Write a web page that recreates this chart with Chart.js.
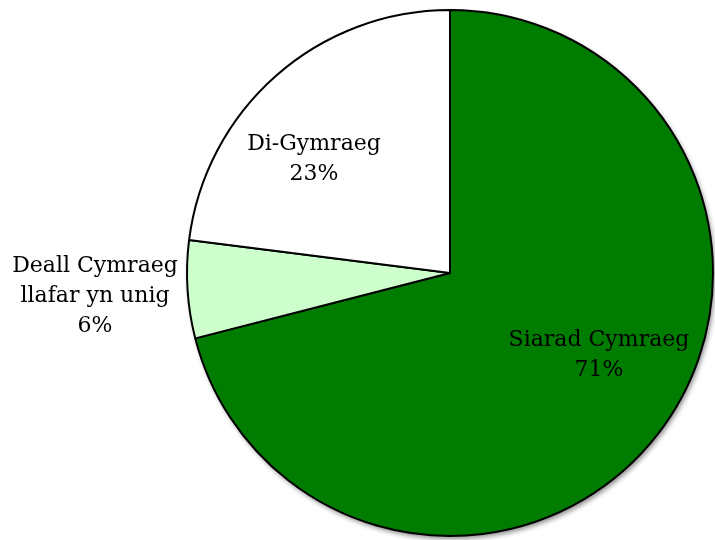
<!DOCTYPE html>
<html>
<head>
<meta charset="utf-8">
<script src="https://cdn.jsdelivr.net/npm/chart.js@4"></script>
<style>
  html, body { margin: 0; padding: 0; background: #fff; }
  #wrap { width: 715px; height: 540px; position: relative; }
</style>
</head>
<body>
<div id="wrap"><canvas id="pieChart"></canvas></div>
<script>
// data
const categories = ['Siarad Cymraeg', 'Deall Cymraeg llafar yn unig', 'Di-Gymraeg'];
const labelLines = [['Siarad Cymraeg'], ['Deall Cymraeg', 'llafar yn unig'], ['Di-Gymraeg']];
const percentages = [71, 6, 23];
const sliceColors = ['#007d00', '#ccffcc', '#ffffff'];

// label placement relative to pie centre (px), first baseline
const labelOffsets = [
    { dx: 149, dy: 73 },
    { dx: -355, dy: -1 },
    { dx: -136, dy: -123 }
];

const FONT = '22px "DejaVu Serif", serif';
const LINE_H = 30;

// soft shadow under the whole pie
const pieShadow = {
    id: 'pieShadow',
    beforeDatasetsDraw(chart) {
        const arc = chart.getDatasetMeta(0).data[0];
        if (!arc) return;
        const ctx = chart.ctx;
        ctx.save();
        ctx.shadowColor = 'rgba(0,0,0,0.45)';
        ctx.shadowBlur = 5;
        ctx.shadowOffsetX = 2;
        ctx.shadowOffsetY = 3;
        ctx.beginPath();
        ctx.arc(arc.x, arc.y, arc.outerRadius, 0, Math.PI * 2);
        ctx.fillStyle = '#fff';
        ctx.fill();
        ctx.restore();
    }
};

// text labels: name + percentage
const sliceLabels = {
    id: 'sliceLabels',
    afterDatasetsDraw(chart) {
        const meta = chart.getDatasetMeta(0);
        const ctx = chart.ctx;
        ctx.save();
        ctx.font = FONT;
        ctx.fillStyle = '#000';
        ctx.textAlign = 'center';
        ctx.textBaseline = 'alphabetic';
        meta.data.forEach((arc, i) => {
            const lines = labelLines[i].concat([percentages[i] + '%']);
            const off = labelOffsets[i];
            lines.forEach((t, j) => {
                ctx.fillText(t, arc.x + off.dx, arc.y + off.dy + j * LINE_H);
            });
        });
        ctx.restore();
    }
};

new Chart(document.getElementById('pieChart'), {
    type: 'pie',
    data: {
        labels: categories,
        datasets: [{
            data: percentages,
            backgroundColor: sliceColors,
            borderColor: '#000',
            borderWidth: 2
        }]
    },
    options: {
        responsive: true,
        maintainAspectRatio: false,
        animation: false,
        events: [],
        layout: { padding: { left: 186, right: 1, top: 9, bottom: 3 } },
        plugins: {
            legend: { display: false },
            tooltip: { enabled: false }
        }
    },
    plugins: [pieShadow, sliceLabels]
});
</script>
</body>
</html>
